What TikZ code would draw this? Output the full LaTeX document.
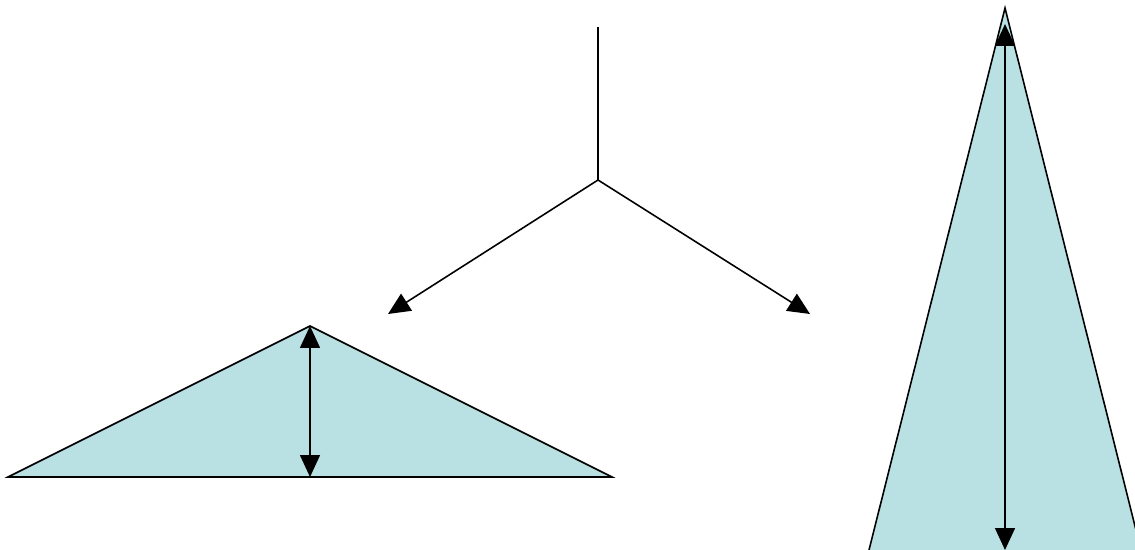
\documentclass[tikz,border=0pt]{standalone}
\usetikzlibrary{arrows.meta}
\begin{document}
\begin{tikzpicture}[x=0.02cm, y=-0.02cm, line width=0.9pt,
    tip/.style={-{Triangle[length=0.44cm,width=0.4cm]}},
    bitip/.style={{Triangle[length=0.44cm,width=0.4cm]}-{Triangle[length=0.44cm,width=0.4cm]}}]
    \definecolor{borderColour}{HTML}{000000}
    \definecolor{fillColourA}{HTML}{B9E0E3}

    % Fix the frame
    \useasboundingbox (0,0) rectangle (1135,550);
    \clip (0,0) rectangle (1135,550);

    % Define points of the fork
    \coordinate (top) at (598,27);
    \coordinate (fork) at (598,180);
    \coordinate (leftEnd) at (388,314);
    \coordinate (rightEnd) at (810,314);

    % Draw fork
    \draw[borderColour] (top) -- (fork);
    \draw[tip, borderColour] (fork) -- (leftEnd);
    \draw[tip, borderColour] (fork) -- (rightEnd);

    % Define vertices of flat triangle
    \coordinate (A) at (8,477);
    \coordinate (B) at (310,326);
    \coordinate (C) at (612,477);
    \coordinate (AC) at (310,477);

    % Draw flat triangle and its height
    \filldraw[fill=fillColourA, draw=borderColour] (A) -- (B) -- (C) -- cycle;
    \draw[bitip, borderColour] (B) -- (AC);

    % Define vertices of tall triangle (base runs off the page)
    \coordinate (P) at (1005,8);
    \coordinate (Q) at (866.5,560);
    \coordinate (R) at (1143.5,560);
    \coordinate (Ptip) at (1005,24);
    \coordinate (QR) at (1005,550);

    % Draw tall triangle and its height
    \filldraw[fill=fillColourA, draw=borderColour] (P) -- (Q) -- (R) -- cycle;
    \draw[bitip, borderColour] (Ptip) -- (QR);

\end{tikzpicture}
\end{document}
